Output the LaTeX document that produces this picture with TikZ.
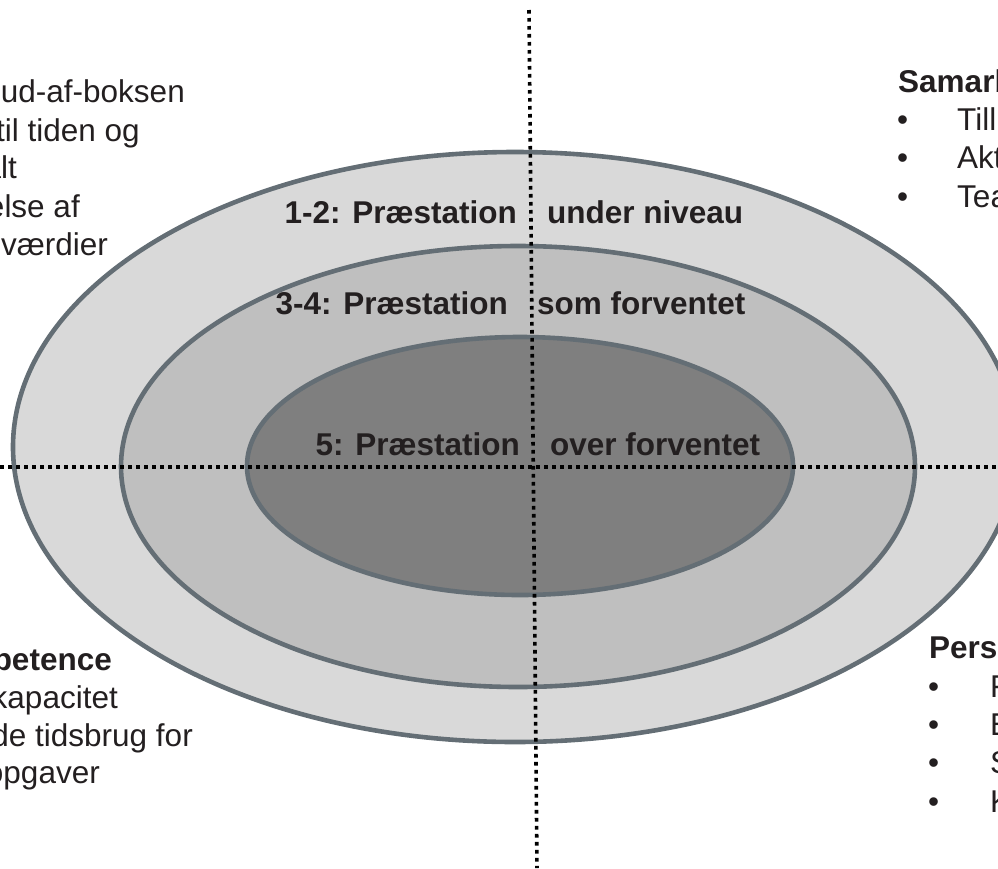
\documentclass[tikz,border=0pt]{standalone}
\usepackage{fontspec}
\setmainfont{Liberation Sans}
\definecolor{ring}{HTML}{646E75}
\definecolor{cOuter}{HTML}{D9D9D9}
\definecolor{cMid}{HTML}{BFBFBF}
\definecolor{cInner}{HTML}{7F7F7F}
\definecolor{ink}{HTML}{231F20}
\begin{document}
\begin{tikzpicture}[x=1pt,y=-1pt,
  ringline/.style={draw=ring, line width=4.6pt},
  dotline/.style={draw=black, line width=3.6pt, dash pattern=on 3.6pt off 4.4pt},
  txt/.style={font=\fontsize{31.5}{37}\selectfont, text=ink, inner sep=0pt},
  btxt/.style={font=\fontsize{31.5}{37}\selectfont\bfseries, text=ink, inner sep=0pt}]
\useasboundingbox (0,0) rectangle (998,868);
\clip (0,0) rectangle (998,868);
% ellipses
\draw[ringline, fill=cOuter] (515,447) ellipse [x radius=502, y radius=295];
\draw[ringline, fill=cMid] (518,466.5) ellipse [x radius=397, y radius=220.5];
\draw[ringline, fill=cInner] (520,466) ellipse [x radius=273, y radius=129];
% axes
\coordinate (vtop) at (529,10);
\coordinate (vbot) at (537,868);
\coordinate (hl) at (0,467);
\coordinate (hr) at (998,467);
\draw[dotline] (vtop) -- (vbot);
\draw[dotline] (hl) -- (hr);
% ring labels
\node[btxt, anchor=base east] (l1a) at (517,223) {1-2: Præstation};
\node[btxt, anchor=base west] (l1b) at (547,223) {under niveau};
\node[btxt, anchor=base east] (l2a) at (508,314) {3-4: Præstation};
\node[btxt, anchor=base west] (l2b) at (537,314) {som forventet};
\node[btxt, anchor=base east] (l3a) at (520,455) {5: Præstation};
\node[btxt, anchor=base west] (l3b) at (550,455) {over forventet};
% top left
\node[txt, anchor=base east] (tl1) at (185,102) {ud-af-boksen};
\node[txt, anchor=base east] (tl2) at (140,141) {til tiden og};
\node[txt, anchor=base east] (tl3) at (17,178) {alt};
\node[txt, anchor=base east] (tl4) at (80,217) {else af};
\node[txt, anchor=base east] (tl5) at (108,255) {værdier};
% bottom left
\node[btxt, anchor=base east] (bl1) at (112,670) {petence};
\node[txt, anchor=base east] (bl2) at (118,708) {kapacitet};
\node[txt, anchor=base east] (bl3) at (193,746) {de tidsbrug for};
\node[txt, anchor=base east] (bl4) at (100,783) {opgaver};
% top right
\node[btxt, anchor=base west] (tr0) at (898,92) {Samarb};
\node[txt, anchor=base west] (trb1) at (897,130) {•};
\node[txt, anchor=base west] (trb2) at (897,168) {•};
\node[txt, anchor=base west] (trb3) at (897,207) {•};
\node[txt, anchor=base west] (tr1) at (957,130) {Till};
\node[txt, anchor=base west] (tr2) at (957,168) {Akt};
\node[txt, anchor=base west] (tr3) at (957,207) {Tea};
% bottom right
\node[btxt, anchor=base west] (br0) at (929,658) {Pers};
\node[txt, anchor=base west] (brb1) at (928,697) {•};
\node[txt, anchor=base west] (brb2) at (928,735) {•};
\node[txt, anchor=base west] (brb3) at (928,773) {•};
\node[txt, anchor=base west] (brb4) at (928,812) {•};
\node[txt, anchor=base west] (br1) at (990,697) {F};
\node[txt, anchor=base west] (br2) at (990,735) {E};
\node[txt, anchor=base west] (br3) at (990,773) {S};
\node[txt, anchor=base west] (br4) at (990,812) {K};
\end{tikzpicture}
\end{document}
